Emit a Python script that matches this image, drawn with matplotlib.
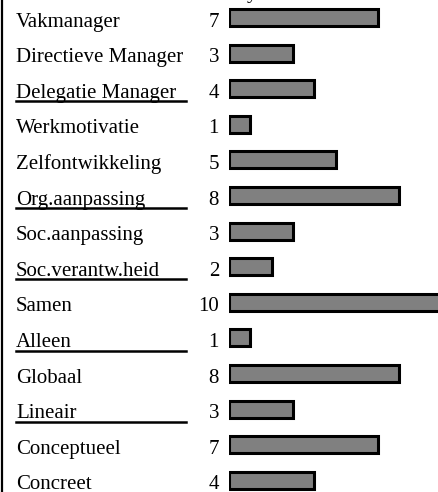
import matplotlib.pyplot as plt
import matplotlib.transforms as mtransforms
from matplotlib.lines import Line2D

# scores per profile item
labels = ['Vakmanager', 'Directieve Manager', 'Delegatie Manager', 'Werkmotivatie',
          'Zelfontwikkeling', 'Org.aanpassing', 'Soc.aanpassing', 'Soc.verantw.heid',
          'Samen', 'Alleen', 'Globaal', 'Lineair', 'Conceptueel', 'Concreet']
scores = [7, 3, 4, 1, 5, 8, 3, 2, 10, 1, 8, 3, 7, 4]
underlined = ['Delegatie Manager', 'Org.aanpassing', 'Soc.verantw.heid', 'Alleen', 'Lineair']

W, H = 438, 492
fig = plt.figure(figsize=(W / 100, H / 100), dpi=100)
plt.rcParams['font.family'] = ['Liberation Serif', 'DejaVu Serif']

x0 = 229 / W
ax = fig.add_axes([x0, 0, 1 - x0, 1])
unit = 21.3   # pixels per score point
step = 35.6   # pixels per row
top = 17.5    # centre of first row, pixels from top
ax.set_xlim(0, (W - 229) / unit)
ax.set_ylim((H - top) / step, -top / step)
ax.axis('off')

rows = list(range(len(labels)))
ax.barh(rows, scores, height=0.48, left=0, color='#808080',
        edgecolor='black', linewidth=2.2)

tr = mtransforms.blended_transform_factory(fig.transFigure, ax.transData)
base = 9.0 / step
for i, (lab, s) in enumerate(zip(labels, scores)):
    ax.text(16 / W, i + base, lab, transform=tr, ha='left', va='baseline',
            fontsize=15, clip_on=False)
    ax.text(219 / W, i + base, str(s), transform=tr, ha='right', va='baseline',
            fontsize=15, clip_on=False)
    if lab in underlined:
        ax.plot([16 / W, 186 / W], [i + base + 0.105] * 2, transform=tr,
                color='black', linewidth=1.8, clip_on=False)

# tail of the heading just above the frame
fig.text(247 / W, 1 + 2 / H, 'y', ha='left', va='baseline', fontsize=15)

fig.add_artist(Line2D([2 / W, 2 / W], [0, 1], color='black', linewidth=1.6))

fig.savefig('out.png', dpi=100)
